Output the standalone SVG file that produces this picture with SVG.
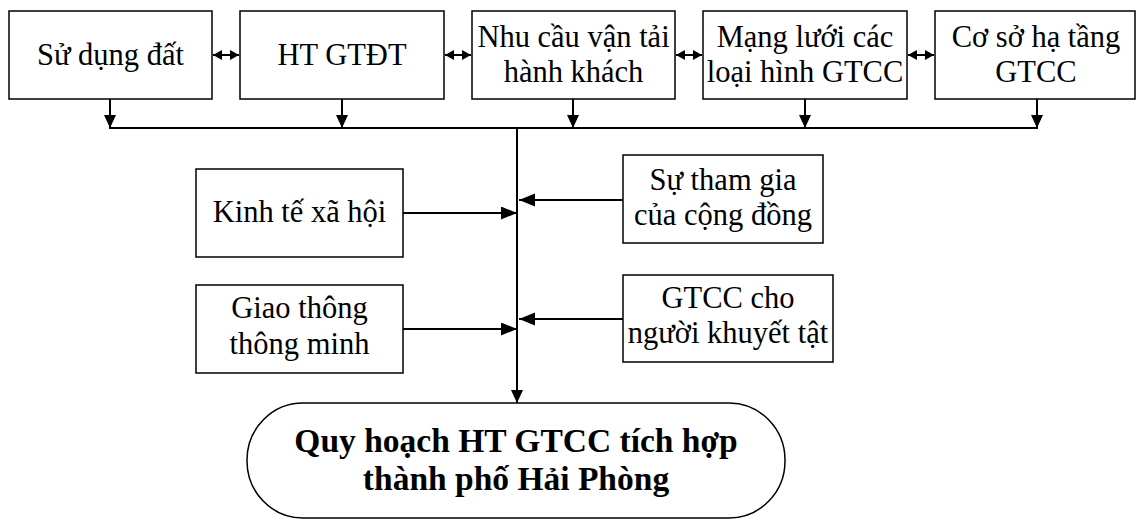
<svg xmlns="http://www.w3.org/2000/svg" width="1137" height="520" viewBox="0 0 1137 520">
  <style>
    .box { fill: #ffffff; stroke: #000000; stroke-width: 1.5; }
    .lbl { font-family: "Liberation Serif", "Times New Roman", serif; font-size: 30.5px; fill: #000000; text-anchor: middle; }
    .title { font-family: "Liberation Serif", "Times New Roman", serif; font-size: 33.5px; font-weight: bold; fill: #000000; text-anchor: middle; }
    .wire { fill: none; stroke: #000000; stroke-width: 2; }
  </style>
  <defs>
    <marker id="head" markerUnits="userSpaceOnUse" markerWidth="17" markerHeight="14" refX="16" refY="6.5" orient="auto">
      <path d="M0,0 L16,6.5 L0,13 Z" fill="#000000"/>
    </marker>
    <marker id="drop" markerUnits="userSpaceOnUse" markerWidth="14" markerHeight="14" refX="13" refY="6" orient="auto">
      <path d="M0,0 L13,6 L0,12 Z" fill="#000000"/>
    </marker>
    <marker id="small-end" markerUnits="userSpaceOnUse" markerWidth="11" markerHeight="11" refX="9" refY="5" orient="auto">
      <path d="M0,0 L9,5 L0,10 Z" fill="#000000"/>
    </marker>
    <marker id="small-start" markerUnits="userSpaceOnUse" markerWidth="11" markerHeight="11" refX="0" refY="5" orient="auto">
      <path d="M9,0 L0,5 L9,10 Z" fill="#000000"/>
    </marker>
  </defs>

  <!-- top row of factors -->
  <g id="su-dung-dat">
    <rect class="box" x="9" y="11" width="203" height="88"/>
    <text class="lbl" x="110.5" y="65">Sử dụng đất</text>
  </g>
  <g id="ht-gtdt">
    <rect class="box" x="240" y="11" width="204" height="88"/>
    <text class="lbl" x="342" y="65">HT GTĐT</text>
  </g>
  <g id="nhu-cau">
    <rect class="box" x="472" y="11" width="203" height="88"/>
    <text class="lbl" x="573.5" y="47">Nhu cầu vận tải</text>
    <text class="lbl" x="573.5" y="82">hành khách</text>
  </g>
  <g id="mang-luoi">
    <rect class="box" x="703" y="11" width="204" height="88"/>
    <text class="lbl" x="805" y="47">Mạng lưới các</text>
    <text class="lbl" x="805" y="82">loại hình GTCC</text>
  </g>
  <g id="co-so-ha-tang">
    <rect class="box" x="935" y="11" width="200" height="88"/>
    <text class="lbl" x="1036" y="47">Cơ sở hạ tầng</text>
    <text class="lbl" x="1036" y="82">GTCC</text>
  </g>

  <!-- side factors -->
  <g id="kinh-te-xa-hoi">
    <rect class="box" x="196" y="169" width="207" height="88"/>
    <text class="lbl" x="299.5" y="222">Kinh tế xã hội</text>
  </g>
  <g id="giao-thong-thong-minh">
    <rect class="box" x="196" y="285" width="207" height="88"/>
    <text class="lbl" x="299.5" y="318">Giao thông</text>
    <text class="lbl" x="299.5" y="354">thông minh</text>
  </g>
  <g id="su-tham-gia">
    <rect class="box" x="623" y="155" width="200" height="88"/>
    <text class="lbl" x="723" y="190">Sự tham gia</text>
    <text class="lbl" x="723" y="225">của cộng đồng</text>
  </g>
  <g id="gtcc-nguoi-khuyet-tat">
    <rect class="box" x="623" y="275" width="210" height="87"/>
    <text class="lbl" x="728" y="308">GTCC cho</text>
    <text class="lbl" x="728" y="343">người khuyết tật</text>
  </g>

  <!-- outcome -->
  <g id="quy-hoach">
    <rect class="box" x="247" y="403" width="538" height="115" rx="56" ry="57"/>
    <text class="title" x="516" y="452">Quy hoạch HT GTCC tích hợp</text>
    <text class="title" x="516" y="490">thành phố Hải Phòng</text>
  </g>

  <g id="connectors">
    <!-- two-way links between top boxes -->
    <line class="wire" x1="213" y1="55" x2="239" y2="55" marker-start="url(#small-start)" marker-end="url(#small-end)"/>
    <line class="wire" x1="445" y1="55" x2="471" y2="55" marker-start="url(#small-start)" marker-end="url(#small-end)"/>
    <line class="wire" x1="676" y1="55" x2="702" y2="55" marker-start="url(#small-start)" marker-end="url(#small-end)"/>
    <line class="wire" x1="908" y1="55" x2="934" y2="55" marker-start="url(#small-start)" marker-end="url(#small-end)"/>

    <!-- drops into the collector bus -->
    <line class="wire" x1="110" y1="99" x2="110" y2="128" marker-end="url(#drop)"/>
    <line class="wire" x1="342" y1="99" x2="342" y2="128" marker-end="url(#drop)"/>
    <line class="wire" x1="573" y1="99" x2="573" y2="128" marker-end="url(#drop)"/>
    <line class="wire" x1="805" y1="99" x2="805" y2="128" marker-end="url(#drop)"/>
    <line class="wire" x1="1037" y1="99" x2="1037" y2="128" marker-end="url(#drop)"/>
    <line class="wire" x1="109" y1="128" x2="1038" y2="128"/>

    <!-- main trunk down to the outcome -->
    <line class="wire" x1="517" y1="128" x2="517" y2="403" marker-end="url(#drop)"/>

    <!-- side inputs -->
    <line class="wire" x1="403" y1="213" x2="517" y2="213" marker-end="url(#head)"/>
    <line class="wire" x1="403" y1="329" x2="517" y2="329" marker-end="url(#head)"/>
    <line class="wire" x1="623" y1="200" x2="519" y2="200" marker-end="url(#head)"/>
    <line class="wire" x1="623" y1="319" x2="519" y2="319" marker-end="url(#head)"/>
  </g>
</svg>
